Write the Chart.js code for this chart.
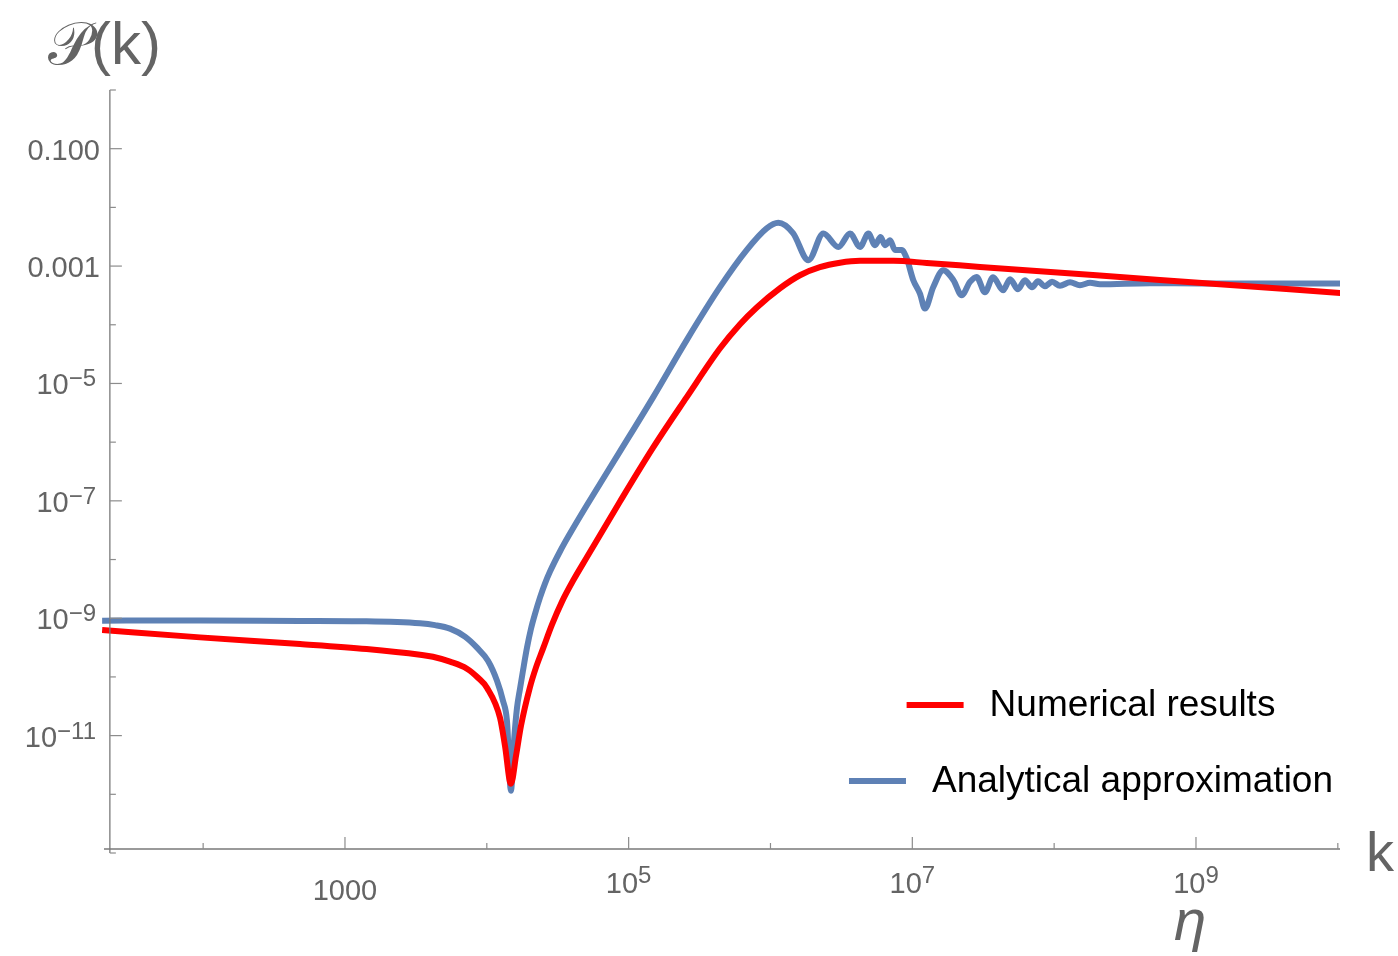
<!DOCTYPE html>
<html>
<head>
<meta charset="utf-8">
<script src="https://cdn.jsdelivr.net/npm/chart.js@4.4.1/dist/chart.umd.min.js"></script>
<style>
html, body { margin: 0; padding: 0; background: #fff; }
#wrap { width: 1398px; height: 956px; }
</style>
</head>
<body>
<div id="wrap"><canvas id="chart" width="1398" height="956"></canvas></div>
<script>
// values (k, P(k))
const numericK = [19.4, 95.1, 482, 1.42e3, 3.38e3, 4.17e3, 5.50e3, 7.24e3, 8.67e3, 1.002e4,
  1.239e4, 1.343e4, 1.479e4, 1.607e4, 1.742e4, 2.01e4, 2.22e4, 2.49e4, 2.88e4, 3.39e4,
  4.06e4, 5.06e4, 8.69e4, 1.49e5, 2.56e5, 4.41e5, 6.10e5, 8.04e5, 1.167e6, 1.614e6, 2.23e6,
  3.09e6, 4.28e6, 7.35e6, 1.265e7, 3.00e7, 5.57e8, 1.04e10];
const numericP = [6.31e-10, 4.72e-10, 3.64e-10, 2.99e-10, 2.39e-10, 2.21e-10, 1.82e-10, 1.38e-10, 9.68e-11, 6.55e-11,
  2.01e-11, 6.71e-12, 1.51e-12, 4.53e-12, 1.47e-11, 6.55e-11, 1.44e-10, 3.03e-10, 7.76e-10, 1.92e-9,
  4.38e-9, 1.08e-8, 9.75e-8, 8.13e-7, 5.79e-6, 3.97e-5, 1.02e-4, 1.99e-4, 4.19e-4, 6.98e-4, 9.57e-4,
  1.14e-3, 1.23e-3, 1.23e-3, 1.13e-3, 9.68e-4, 5.81e-4, 3.48e-4];

const analyticK = [19.4, 95.1, 482, 1.42e3, 3.38e3, 4.31e3, 5.50e3, 7.01e3, 8.53e3, 1.019e4,
  1.18e4, 1.30e4, 1.387e4, 1.479e4, 1.556e4, 1.633e4, 1.714e4, 1.799e4, 1.92e4, 2.05e4,
  2.19e4, 2.37e4, 2.57e4, 2.79e4, 3.28e4, 3.86e4, 5.06e4, 8.69e4,
  1.49e5, 2.56e5, 4.41e5, 6.79e5, 9.40e5, 1.135e6, 1.442e6, 1.85e6, 2.36e6, 3.01e6,
  3.64e6, 4.28e6, 4.90e6, 5.46e6, 5.98e6, 6.41e6, 6.97e6, 7.55e6, 8.41e6, 9.12e6,
  1.016e7, 1.132e7, 1.227e7, 1.406e7, 1.652e7, 1.95e7, 2.23e7, 2.55e7, 2.84e7, 3.25e7,
  3.71e7, 4.36e7, 4.89e7, 5.56e7, 6.22e7, 6.98e7, 7.69e7, 8.61e7, 9.66e7, 1.099e8,
  1.294e8, 1.521e8, 1.791e8, 2.104e8, 4.74e8, 1.067e9, 1.04e10];
const analyticP = [9.10e-10, 9.12e-10, 8.97e-10, 8.85e-10, 8.18e-10, 7.62e-10, 6.64e-10, 4.85e-10, 3.15e-10, 1.89e-10,
  8.61e-11, 3.93e-11, 1.79e-11, 1.15e-12, 8.17e-12, 2.99e-11, 6.30e-11, 1.28e-10, 3.15e-10, 6.64e-10,
  1.20e-9, 2.24e-9, 3.89e-9, 6.24e-9, 1.37e-8, 2.77e-8, 8.32e-8, 6.95e-7,
  5.86e-6, 5.43e-5, 4.41e-4, 1.87e-3, 4.38e-3, 5.45e-3, 3.64e-3, 1.26e-3, 3.59e-3, 2.12e-3,
  3.59e-3, 2.12e-3, 3.59e-3, 2.27e-3, 3.14e-3, 2.27e-3, 2.76e-3, 1.87e-3, 1.87e-3, 1.36e-3,
  5.74e-4, 3.40e-4, 1.89e-4, 4.41e-4, 8.49e-4, 5.74e-4, 3.18e-4, 5.37e-4, 6.53e-4, 3.58e-4,
  6.46e-4, 3.87e-4, 5.97e-4, 4.03e-4, 5.74e-4, 4.36e-4, 5.52e-4, 4.53e-4, 5.41e-4, 4.62e-4,
  5.31e-4, 4.71e-4, 5.20e-4, 4.91e-4, 5.11e-4, 5.04e-4, 5.04e-4];

const seriesNames = ["Numerical results", "Analytical approximation"];
const seriesColors = ["#ff0000", "#5e81b5"];

// ticks: [exponent, base text, superscript]
const xTicks = [[2], [3, "1000", ""], [4], [5, "10", "5"], [6], [7, "10", "7"], [8], [9, "10", "9"], [10]];
const yTicks = [[0], [-1, "0.100", ""], [-2], [-3, "0.001", ""], [-4], [-5, "10", "\u22125"], [-6],
  [-7, "10", "\u22127"], [-8], [-9, "10", "\u22129"], [-10], [-11, "10", "\u221211"], [-12], [-13]];

const FONT = '"Liberation Sans", Arial, sans-serif';
const GREY = "#646464";

function toPoints(ks, ps) {
  return ks.map((k, i) => ({ x: k, y: ps[i] }));
}

const mmaAxes = {
  id: "mmaAxes",
  afterDatasetsDraw(chart) {
    const ctx = chart.ctx;
    const xs = chart.scales.x, ys = chart.scales.y;
    const area = chart.chartArea;
    const axisX = xs.getPixelForValue(22);
    const axisY = area.bottom - 4;
    ctx.save();
    ctx.strokeStyle = "#7a7a7a";
    ctx.lineWidth = 1.3;
    ctx.beginPath();
    ctx.moveTo(area.left + 2, axisY);
    ctx.lineTo(area.right, axisY);
    ctx.moveTo(axisX, area.bottom);
    ctx.lineTo(axisX, area.top);
    ctx.stroke();

    ctx.strokeStyle = "#8c8c8c";
    ctx.lineWidth = 1.2;
    ctx.fillStyle = GREY;
    // x ticks
    xTicks.forEach(t => {
      const px = xs.getPixelForValue(Math.pow(10, t[0]));
      const len = t[1] ? 12 : 6;
      ctx.beginPath();
      ctx.moveTo(px, axisY);
      ctx.lineTo(px, axisY - len);
      ctx.stroke();
      if (t[1]) {
        ctx.font = "29px " + FONT;
        const wb = ctx.measureText(t[1]).width;
        ctx.font = "24px " + FONT;
        const ws = t[2] ? ctx.measureText(t[2]).width : 0;
        const x0 = px - (wb + ws) / 2;
        ctx.textAlign = "left";
        ctx.textBaseline = "alphabetic";
        ctx.font = "29px " + FONT;
        ctx.fillText(t[1], x0, t[2] ? 893 : 900);
        if (t[2]) {
          ctx.font = "24px " + FONT;
          ctx.fillText(t[2], x0 + wb, 883);
        }
      }
    });
    // y ticks
    yTicks.forEach(t => {
      const py = ys.getPixelForValue(Math.pow(10, t[0]));
      const len = t[1] ? 12 : 6;
      ctx.beginPath();
      ctx.moveTo(axisX, py);
      ctx.lineTo(axisX + len, py);
      ctx.stroke();
      if (t[1]) {
        ctx.font = "29px " + FONT;
        const wb = ctx.measureText(t[1]).width;
        ctx.font = "24px " + FONT;
        const ws = t[2] ? ctx.measureText(t[2]).width : 0;
        const right = t[2] ? 96 : 100;
        const x0 = right - wb - ws;
        ctx.textAlign = "left";
        ctx.textBaseline = "alphabetic";
        ctx.font = "29px " + FONT;
        ctx.fillText(t[1], x0, py + 11);
        if (t[2]) {
          ctx.font = "24px " + FONT;
          ctx.fillText(t[2], x0 + wb, py + 3);
        }
      }
    });

    // axis titles
    ctx.textAlign = "left";
    ctx.font = "60px " + FONT;
    ctx.fillText("\uD835\uDCAB(k)", 48, 64);
    ctx.font = "56px " + FONT;
    ctx.fillText("k", 1366, 871);
    ctx.font = "italic 58px " + FONT;
    ctx.fillText("\u03B7", 1174, 940);

    // legend
    const rows = [[0, 705], [1, 781]];
    ctx.font = "37px " + FONT;
    rows.forEach(r => {
      const ds = chart.data.datasets[r[0]];
      const tw = ctx.measureText(ds.label).width;
      const total = 57 + 26 + tw;
      const x0 = 1091 - total / 2;
      ctx.strokeStyle = ds.borderColor;
      ctx.lineWidth = 6;
      ctx.beginPath();
      ctx.moveTo(x0, r[1]);
      ctx.lineTo(x0 + 57, r[1]);
      ctx.stroke();
      ctx.fillStyle = "#000";
      ctx.textBaseline = "middle";
      ctx.fillText(ds.label, x0 + 83, r[1] + 1);
    });
    ctx.restore();
  }
};

new Chart(document.getElementById("chart"), {
  type: "line",
  data: {
    datasets: [
      {
        label: seriesNames[0],
        data: toPoints(numericK, numericP),
        borderColor: seriesColors[0],
        borderWidth: 6,
        pointRadius: 0,
        fill: false,
        cubicInterpolationMode: "monotone",
        borderCapStyle: "butt",
        borderJoinStyle: "round",
        order: 0
      },
      {
        label: seriesNames[1],
        data: toPoints(analyticK, analyticP),
        borderColor: seriesColors[1],
        borderWidth: 6,
        pointRadius: 0,
        fill: false,
        cubicInterpolationMode: "monotone",
        borderCapStyle: "butt",
        borderJoinStyle: "round",
        order: 1
      }
    ]
  },
  options: {
    responsive: false,
    animation: false,
    devicePixelRatio: 1,
    layout: { padding: { left: 102, right: 58, top: 90, bottom: 103 } },
    plugins: { legend: { display: false }, tooltip: { enabled: false } },
    scales: {
      x: { type: "logarithmic", min: 19.36, max: 1.036e10, display: false },
      y: { type: "logarithmic", min: 1e-13, max: 1, display: false }
    }
  },
  plugins: [mmaAxes]
});
</script>
</body>
</html>
